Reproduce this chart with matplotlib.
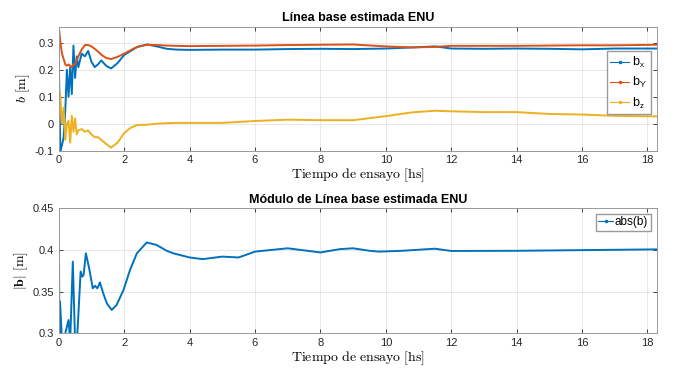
import matplotlib
matplotlib.use("Agg")
import matplotlib.pyplot as plt

plt.rcParams['font.family'] = ['Liberation Sans', 'DejaVu Sans']
plt.rcParams['mathtext.fontset'] = 'cm'

# --- data ---
t = [0, 0.02, 0.05, 0.1, 0.15, 0.2, 0.25, 0.3, 0.35, 0.4,
     0.45, 0.5, 0.55, 0.6, 0.7, 0.8, 0.9, 1.0, 1.1, 1.2,
     1.3, 1.45, 1.6, 1.8, 2.0, 2.2, 2.4, 2.7, 3.0, 3.3,
     3.6, 4, 5, 6, 7, 8, 9, 10, 10.8, 11.5,
     12, 13, 14, 15, 16, 17, 18.3]
bx = [0.27, 0.1, -0.1, -0.08, -0.05, 0.05, 0.2, 0.1, 0.21, 0.11,
      0.29, 0.17, 0.25, 0.21, 0.26, 0.25, 0.27, 0.23, 0.21, 0.22,
      0.235, 0.215, 0.205, 0.225, 0.255, 0.27, 0.285, 0.294, 0.287, 0.278,
      0.275, 0.274, 0.275, 0.275, 0.277, 0.278, 0.277, 0.279, 0.283, 0.287,
      0.279, 0.278, 0.279, 0.278, 0.276, 0.279, 0.279]
by = [0.36, 0.34, 0.3, 0.26, 0.24, 0.22, 0.215, 0.22, 0.215, 0.21,
      0.22, 0.22, 0.235, 0.25, 0.275, 0.292, 0.292, 0.287, 0.278, 0.268,
      0.256, 0.244, 0.24, 0.248, 0.26, 0.273, 0.285, 0.293, 0.292, 0.29,
      0.289, 0.288, 0.289, 0.29, 0.292, 0.293, 0.294, 0.287, 0.283, 0.285,
      0.289, 0.289, 0.289, 0.29, 0.291, 0.291, 0.293]
bz = [0.0, 0.12, 0.1, 0.0, 0.06, -0.06, 0.0, 0.01, -0.07, 0.03,
      -0.03, 0.02, -0.04, -0.025, -0.02, -0.03, -0.025, -0.04, -0.05, -0.05,
      -0.06, -0.075, -0.089, -0.07, -0.035, -0.015, -0.005, -0.004, 0.0, 0.002,
      0.003, 0.003, 0.003, 0.01, 0.015, 0.013, 0.013, 0.028, 0.042, 0.048,
      0.046, 0.043, 0.043, 0.036, 0.034, 0.029, 0.027]

t2 = [0, 0.02, 0.04, 0.1, 0.2, 0.3, 0.35, 0.43, 0.5, 0.57,
      0.67, 0.72, 0.76, 0.83, 0.94, 1.04, 1.11, 1.18, 1.26, 1.36,
      1.47, 1.62, 1.77, 1.98, 2.18, 2.39, 2.69, 2.99, 3.3, 3.5,
      4.0, 4.4, 5.0, 5.5, 6.0, 7.0, 8.0, 8.6, 9.0, 9.5,
      9.8, 10.5, 11.5, 12.0, 14.0, 16.0, 18.3]
babs = [0.46, 0.3, 0.338, 0.29, 0.3, 0.316, 0.29, 0.386, 0.29, 0.3,
        0.374, 0.368, 0.37, 0.396, 0.376, 0.354, 0.357, 0.354, 0.361, 0.348,
        0.336, 0.328, 0.334, 0.352, 0.376, 0.396, 0.409, 0.406, 0.399, 0.396,
        0.391, 0.389, 0.392, 0.391, 0.398, 0.402, 0.397, 0.401, 0.402, 0.399,
        0.398, 0.399, 0.4015, 0.3988, 0.399, 0.3998, 0.4007]

xticks = [0, 2, 4, 6, 8, 10, 12, 14, 16, 18]
yticks_top = [-0.1, 0, 0.1, 0.2, 0.3]
yticks_bot = [0.3, 0.35, 0.4, 0.45]

blue, orange, yellow = '#0072BD', '#D95319', '#EDB120'

fig = plt.figure(figsize=(6.79, 3.71), dpi=100)
ax1 = fig.add_axes([0.0865, 0.594, 0.8815, 0.334])
ax2 = fig.add_axes([0.0865, 0.1016, 0.8815, 0.337])


def style(ax):
    ax.grid(True, color='#e4e4e4', linewidth=0.6)
    ax.set_axisbelow(True)
    ax.tick_params(direction='in', top=True, right=True, labelsize=8,
                   colors='#262626', length=3, width=0.6)
    for s in ax.spines.values():
        s.set_color('#9a9a9a')
        s.set_linewidth(0.7)
    ax.set_xlim(0, 18.3)
    ax.set_xticks(xticks)
    ax.set_xlabel(r'$\mathrm{Tiempo\ de\ ensayo\ [hs]}$', fontsize=10, labelpad=1)


def legend_proxy(ax, color, label):
    # empty line used only as legend handle (line with dot marker)
    return ax.plot([], [], '.-', color=color, lw=0.8, ms=3, label=label)[0]


ax1.plot(t, bx, '-', color=blue, lw=1.4)
ax1.plot(t, by, '-', color=orange, lw=1.4)
ax1.plot(t, bz, '-', color=yellow, lw=1.4)
h1 = [legend_proxy(ax1, blue, r'b$_\mathsf{x}$'),
      legend_proxy(ax1, orange, r'b$_\mathsf{Y}$'),
      legend_proxy(ax1, yellow, r'b$_\mathsf{z}$')]
style(ax1)
ax1.set_ylim(-0.1, 0.36)
ax1.set_yticks(yticks_top)
ax1.set_yticklabels(['-0.1', '0', '0.1', '0.2', '0.3'])
ax1.set_ylabel(r'$b\ \mathrm{[m]}$', fontsize=10, labelpad=2)
ax1.set_title('Línea base estimada ENU', fontsize=9, fontweight='bold', pad=4)
ax1.legend(handles=h1, loc='upper right', bbox_to_anchor=(0.989, 0.80), fontsize=9,
           handlelength=1.5, handletextpad=0.2, borderpad=0.3, labelspacing=0.4,
           borderaxespad=0, fancybox=False, edgecolor='#9a9a9a', framealpha=1)

ax2.plot(t2, babs, '-', color=blue, lw=1.4)
h2 = [legend_proxy(ax2, blue, 'abs(b)')]
style(ax2)
ax2.set_ylim(0.3, 0.45)
ax2.set_yticks(yticks_bot)
ax2.set_yticklabels(['0.3', '0.35', '0.4', '0.45'])
ax2.set_ylabel(r'$|\mathbf{b}|\ \mathrm{[m]}$', fontsize=10, labelpad=2)
ax2.set_title('Módulo de Línea base estimada ENU', fontsize=9, fontweight='bold', pad=4)
ax2.legend(handles=h2, loc='upper right', bbox_to_anchor=(0.989, 0.955), fontsize=8.5,
           handlelength=1.2, handletextpad=0.2, borderpad=0.2,
           borderaxespad=0, fancybox=False, edgecolor='#9a9a9a', framealpha=1)

fig.savefig('out.png', dpi=100, facecolor='white')
